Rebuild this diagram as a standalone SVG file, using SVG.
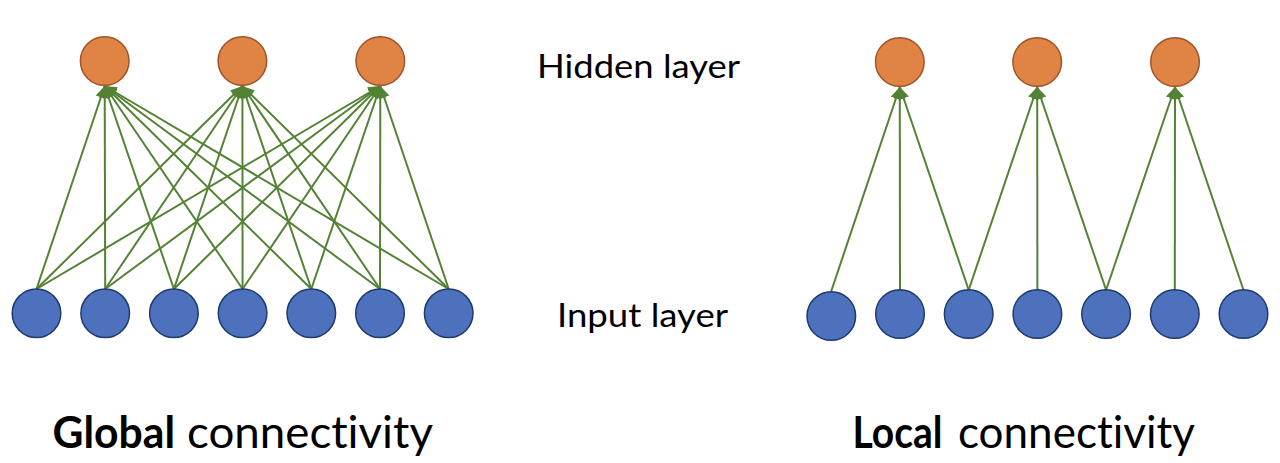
<svg xmlns="http://www.w3.org/2000/svg" width="1280" height="463" viewBox="0 0 1280 463">
<style>
.hid{fill:#DF8445;stroke:#A0542A;stroke-width:1.5}
.inp{fill:#4E71BE;stroke:#1F3A6E;stroke-width:1.5}
.edge{stroke:#548235;stroke-width:2;fill:none;marker-end:url(#arr)}
.lbl{font-family:Lato,"Open Sans",sans-serif;font-size:32px;fill:#000;font-variant-ligatures:none}
.ttl{font-family:Lato,"Open Sans",sans-serif;font-size:44px;fill:#000;font-variant-ligatures:none}
.b{font-weight:bold}
</style>
<defs>
<marker id="arr" markerUnits="userSpaceOnUse" markerWidth="13" markerHeight="13" viewBox="0 0 13 13" refX="12" refY="6.5" orient="auto">
<path d="M0,1 L12,6.5 L0,12 z" fill="#548235"/>
</marker>
</defs>
<rect width="1280" height="463" fill="#fff"/>
<g id="connectors">
<line class="edge" x1="36.5" y1="289" x2="104.7" y2="86"/>
<line class="edge" x1="105.2" y1="289" x2="104.7" y2="86"/>
<line class="edge" x1="173.9" y1="289" x2="104.7" y2="86"/>
<line class="edge" x1="242.6" y1="289" x2="104.7" y2="86"/>
<line class="edge" x1="311.3" y1="289" x2="104.7" y2="86"/>
<line class="edge" x1="380" y1="289" x2="104.7" y2="86"/>
<line class="edge" x1="448.7" y1="289" x2="104.7" y2="86"/>
<line class="edge" x1="36.5" y1="289" x2="242.4" y2="86"/>
<line class="edge" x1="105.2" y1="289" x2="242.4" y2="86"/>
<line class="edge" x1="173.9" y1="289" x2="242.4" y2="86"/>
<line class="edge" x1="242.6" y1="289" x2="242.4" y2="86"/>
<line class="edge" x1="311.3" y1="289" x2="242.4" y2="86"/>
<line class="edge" x1="380" y1="289" x2="242.4" y2="86"/>
<line class="edge" x1="448.7" y1="289" x2="242.4" y2="86"/>
<line class="edge" x1="36.5" y1="289" x2="380.3" y2="86"/>
<line class="edge" x1="105.2" y1="289" x2="380.3" y2="86"/>
<line class="edge" x1="173.9" y1="289" x2="380.3" y2="86"/>
<line class="edge" x1="242.6" y1="289" x2="380.3" y2="86"/>
<line class="edge" x1="311.3" y1="289" x2="380.3" y2="86"/>
<line class="edge" x1="380" y1="289" x2="380.3" y2="86"/>
<line class="edge" x1="448.7" y1="289" x2="380.3" y2="86"/>
<line class="edge" x1="831.3" y1="291" x2="899.8" y2="87"/>
<line class="edge" x1="900" y1="290" x2="899.8" y2="87"/>
<line class="edge" x1="968.7" y1="290" x2="899.8" y2="87"/>
<line class="edge" x1="968.7" y1="290" x2="1037.2" y2="87"/>
<line class="edge" x1="1037.4" y1="290" x2="1037.2" y2="87"/>
<line class="edge" x1="1106.1" y1="290" x2="1037.2" y2="87"/>
<line class="edge" x1="1106.1" y1="290" x2="1175" y2="87"/>
<line class="edge" x1="1174.8" y1="290" x2="1175" y2="87"/>
<line class="edge" x1="1243.5" y1="290" x2="1175" y2="87"/>
</g>
<g id="global-hidden-1"><circle class="hid" cx="104.7" cy="61" r="24.3"/></g>
<g id="global-hidden-2"><circle class="hid" cx="242.4" cy="61" r="24.3"/></g>
<g id="global-hidden-3"><circle class="hid" cx="380.3" cy="61" r="24.3"/></g>
<g id="global-input-1"><circle class="inp" cx="36.5" cy="313.3" r="24.3"/></g>
<g id="global-input-2"><circle class="inp" cx="105.2" cy="313.3" r="24.3"/></g>
<g id="global-input-3"><circle class="inp" cx="173.9" cy="313.3" r="24.3"/></g>
<g id="global-input-4"><circle class="inp" cx="242.6" cy="313.3" r="24.3"/></g>
<g id="global-input-5"><circle class="inp" cx="311.3" cy="313.3" r="24.3"/></g>
<g id="global-input-6"><circle class="inp" cx="380" cy="313.3" r="24.3"/></g>
<g id="global-input-7"><circle class="inp" cx="448.7" cy="313.3" r="24.3"/></g>
<g id="local-hidden-1"><circle class="hid" cx="899.8" cy="62" r="24.3"/></g>
<g id="local-hidden-2"><circle class="hid" cx="1037.2" cy="62" r="24.3"/></g>
<g id="local-hidden-3"><circle class="hid" cx="1175" cy="62" r="24.3"/></g>
<g id="local-input-1"><circle class="inp" cx="831.3" cy="316" r="24.3"/></g>
<g id="local-input-2"><circle class="inp" cx="900" cy="314" r="24.3"/></g>
<g id="local-input-3"><circle class="inp" cx="968.7" cy="314" r="24.3"/></g>
<g id="local-input-4"><circle class="inp" cx="1037.4" cy="314" r="24.3"/></g>
<g id="local-input-5"><circle class="inp" cx="1106.1" cy="314" r="24.3"/></g>
<g id="local-input-6"><circle class="inp" cx="1174.8" cy="314" r="24.3"/></g>
<g id="local-input-7"><circle class="inp" cx="1243.5" cy="314" r="24.3"/></g>
<g id="labels">
<text class="lbl" x="537" y="78" textLength="203" lengthAdjust="spacingAndGlyphs">Hidden layer</text>
<text class="lbl" x="557" y="327" textLength="171" lengthAdjust="spacingAndGlyphs">Input layer</text>
<text class="ttl b" x="52.5" y="448" textLength="122.5" lengthAdjust="spacingAndGlyphs">Global</text>
<text class="ttl" x="187" y="448" textLength="246" lengthAdjust="spacingAndGlyphs">connectivity</text>
<text class="ttl b" x="852.5" y="448" textLength="90" lengthAdjust="spacingAndGlyphs">Local</text>
<text class="ttl" x="958" y="448" textLength="237" lengthAdjust="spacingAndGlyphs">connectivity</text>
</g>
</svg>
